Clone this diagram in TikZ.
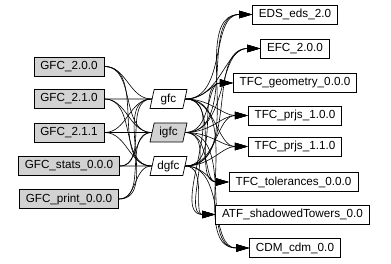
\documentclass[tikz,border=0pt]{standalone}
\usepackage{fontspec}
\setmainfont{Liberation Sans}
\usetikzlibrary{shapes.geometric,arrows.meta,backgrounds}
\begin{document}
\begin{tikzpicture}[x=1pt,y=1pt,
  box/.style={draw=black,line width=0.7pt,rectangle,inner xsep=6.5pt,inner ysep=0pt,minimum height=19pt,
    font=\fontsize{11.7}{14}\selectfont},
  grey/.style={box,fill=gray!35},
  white/.style={box,fill=white},
  para/.style={draw=black,line width=0.7pt,trapezium,trapezium left angle=69,trapezium right angle=111,
    trapezium stretches body,minimum width=37pt,minimum height=19pt,inner xsep=2pt,inner ysep=0pt,
    font=\fontsize{11.7}{14}\selectfont},
  edge/.style={line width=0.6pt},
  arr/.style={line width=0.6pt,-{Triangle[length=13pt,width=7.5pt]}}
]
\useasboundingbox (0,0) rectangle (391,264);
% left nodes
\node[grey] (a1) at (69,264-66.5) {GFC\_2.0.0};
\node[grey] (a2) at (69,264-99) {GFC\_2.1.0};
\node[grey] (a3) at (69,264-132.5) {GFC\_2.1.1};
\node[grey] (a4) at (69,264-166) {GFC\_stats\_0.0.0};
\node[grey] (a5) at (69,264-199) {GFC\_print\_0.0.0};
% middle nodes
\node[para,fill=white] (m1) at (168.5,264-99) {gfc};
\node[para,fill=gray!35] (m2) at (168.5,264-132.5) {igfc};
\node[para,fill=white] (m3) at (168.5,264-166) {dgfc};
% right nodes
\node[white] (r1) at (295,264-14.5) {EDS\_eds\_2.0};
\node[white] (r2) at (295,264-48.5) {EFC\_2.0.0};
\node[white] (r3) at (295,264-83) {TFC\_geometry\_0.0.0};
\node[white] (r4) at (295,264-115.5) {TFC\_prjs\_1.0.0};
\node[white] (r5) at (295,264-146.5) {TFC\_prjs\_1.1.0};
\node[white] (r6) at (293.5,264-182) {TFC\_tolerances\_0.0.0};
\node[white] (r7) at (292.5,264-214.5) {ATF\_shadowedTowers\_0.0};
\node[white] (r8) at (295,264-248) {CDM\_cdm\_0.0};
\begin{scope}[on background layer]
\foreach \a in {a1,a2,a3,a4,a5}{
  \foreach \m in {m1,m2,m3}{
    \draw[edge] (\a.east) to[out=0,in=180] (\m.west);
  }
}
\foreach \m in {m1,m2,m3}{
  \foreach \r in {r1,r2,r3,r4,r5,r6,r7,r8}{
    \draw[arr] (\m.east) to[out=0,in=180] (\r.west);
  }
}
\end{scope}
\end{tikzpicture}
\end{document}
